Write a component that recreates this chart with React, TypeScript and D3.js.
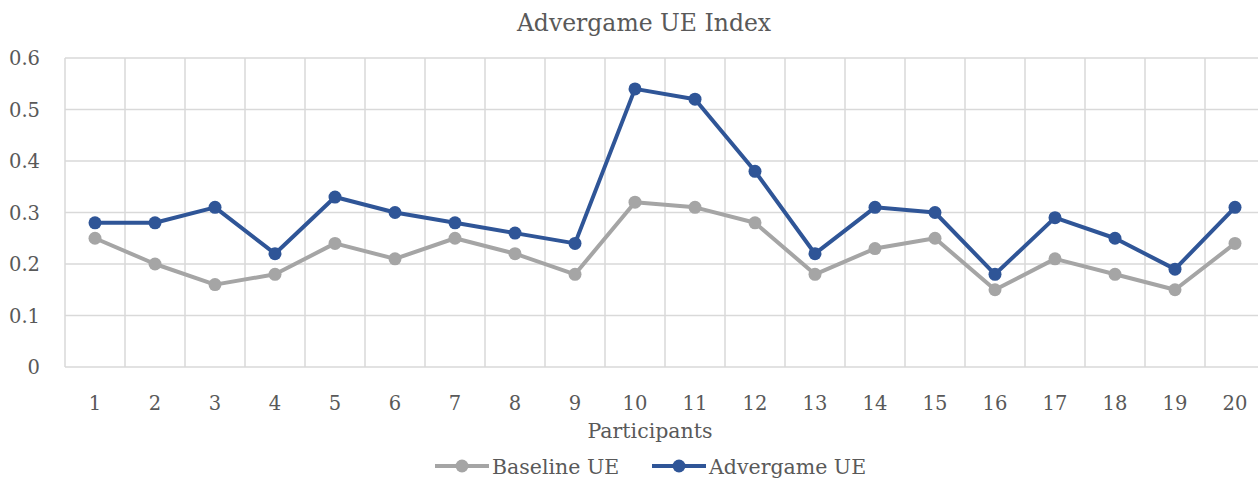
import React from "react";
import * as d3 from "d3";

const participants = ["1","2","3","4","5","6","7","8","9","10","11","12","13","14","15","16","17","18","19","20"];
const baselineUE = [0.25,0.20,0.16,0.18,0.24,0.21,0.25,0.22,0.18,0.32,0.31,0.28,0.18,0.23,0.25,0.15,0.21,0.18,0.15,0.24];
const advergameUE = [0.28,0.28,0.31,0.22,0.33,0.30,0.28,0.26,0.24,0.54,0.52,0.38,0.22,0.31,0.30,0.18,0.29,0.25,0.19,0.31];
const yTicks = [0, 0.1, 0.2, 0.3, 0.4, 0.5, 0.6];

const series = [
  { name: "Baseline UE", values: baselineUE, color: "#A5A5A5" },
  { name: "Advergame UE", values: advergameUE, color: "#2F5597" },
];

const W = 1258;
const H = 480;
const font = "'DejaVu Serif', 'Liberation Serif', serif";
const textColor = "#595959";

const App = () => {
  const x = d3.scaleBand().domain(participants).range([65, 1265]);
  const y = d3.scaleLinear().domain([0, 0.6]).range([367, 58]);
  const cx = (i: number) => (x(participants[i]) as number) + x.bandwidth() / 2;
  const line = d3
    .line<number>()
    .x((d, i) => cx(i))
    .y(d => y(d));

  // vertical grid sits on the category boundaries
  const bounds = participants.map(p => x(p) as number).concat([x.range()[1]]);

  return (
    <svg
      width={W}
      height={H}
      style={{ position: "absolute", left: 0, top: 0, background: "#fff" }}
      fontFamily={font}
    >
      <text x={644} y={31} textAnchor="middle" fontSize={23.5} fill={textColor}>
        Advergame UE Index
      </text>
      <g stroke="#D9D9D9" strokeWidth={1.5}>
        {yTicks.map(t => (
          <line key={t} x1={65} x2={1265} y1={y(t)} y2={y(t)} />
        ))}
        {bounds.map((b, i) => (
          <line key={i} x1={b} x2={b} y1={y(0.6)} y2={y(0)} />
        ))}
      </g>
      <g fontSize={19.5} fill={textColor}>
        {yTicks.map(t => (
          <text key={t} x={40} y={y(t) + 7} textAnchor="end">
            {t === 0 ? "0" : d3.format(".1f")(t)}
          </text>
        ))}
        {participants.map((p, i) => (
          <text key={p} x={cx(i)} y={410} textAnchor="middle">
            {p}
          </text>
        ))}
      </g>
      <text x={650} y={438} textAnchor="middle" fontSize={20.5} fill={textColor}>
        Participants
      </text>
      {series.map(s => (
        <g key={s.name}>
          <path d={line(s.values) || ""} fill="none" stroke={s.color} strokeWidth={4} strokeLinejoin="round" />
          {s.values.map((v, i) => (
            <circle key={i} cx={cx(i)} cy={y(v)} r={6.5} fill={s.color} />
          ))}
        </g>
      ))}
      {series.map((s, k) => {
        const lx = k === 0 ? 435 : 652;
        return (
          <g key={s.name}>
            <line x1={lx} x2={lx + 54} y1={466} y2={466} stroke={s.color} strokeWidth={4} />
            <circle cx={lx + 27} cy={466} r={6.5} fill={s.color} />
            <text x={lx + 57} y={474} fontSize={20.5} fill={textColor}>
              {s.name}
            </text>
          </g>
        );
      })}
    </svg>
  );
};

export default App;
